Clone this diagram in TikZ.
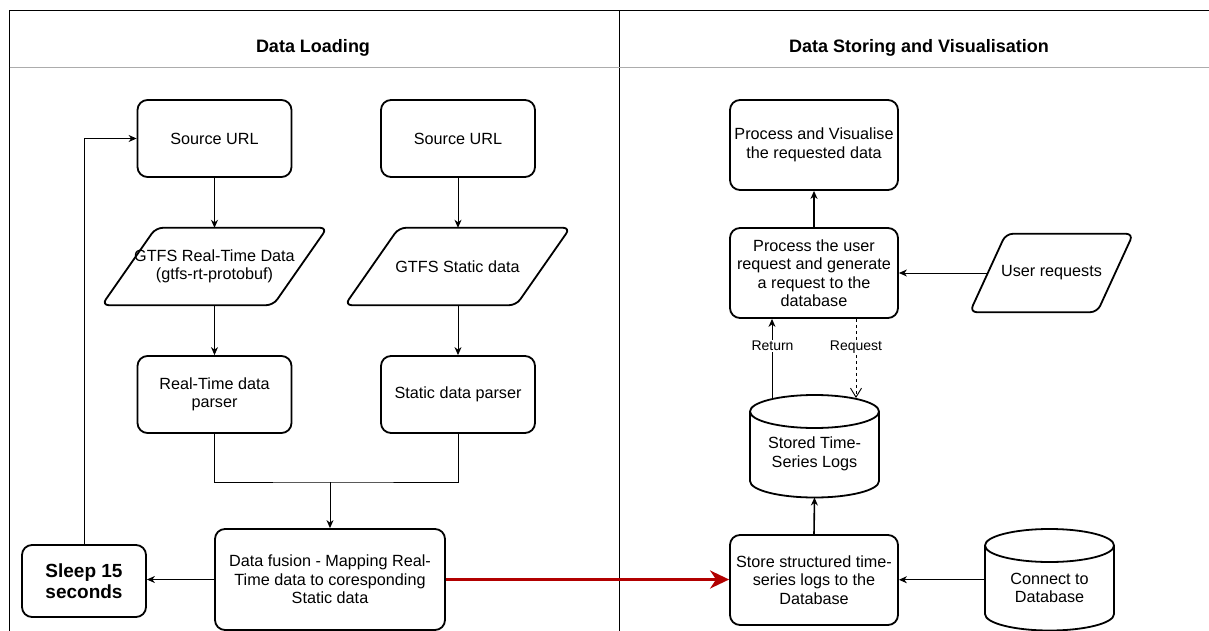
\documentclass[tikz,border=0pt]{standalone}
\usepackage{fontspec}
\setmainfont{Liberation Sans}
\usetikzlibrary{arrows.meta,calc}
\definecolor{darkred}{HTML}{B20000}
\begin{document}
\begin{tikzpicture}[x=1pt,y=-1pt,
  box/.style={draw, line width=1.8pt, rounded corners=10pt, fill=white, align=center, inner sep=0pt, font=\fontsize{16.2}{18.5}\selectfont},
  txt/.style={align=center, inner sep=0pt, font=\fontsize{16.2}{18.5}\selectfont},
  hdr/.style={font=\bfseries\fontsize{18}{21}\selectfont, inner sep=0pt},
  conn/.style={line width=1pt, -{Stealth[length=8pt,width=7pt,inset=2.5pt]}},
  thickconn/.style={line width=1.6pt, -{Stealth[length=8pt,width=7pt,inset=2.5pt]}},
  plain/.style={line width=1pt},
  lbl/.style={fill=white, inner sep=1pt, font=\fontsize{14}{16}\selectfont},
  shapeline/.style={line width=1.8pt, line join=round},
  ghost/.style={inner sep=0pt, outer sep=0pt}
]
\useasboundingbox (0,0) rectangle (1209,631);

% frame
\draw[line width=1pt] (9.5,631) -- (9.5,10.5) -- (1209,10.5);
\draw[line width=1pt] (619,10.5) -- (619,631);
\draw[line width=1pt, gray!65] (9.5,68) -- (1209,68);
\node[hdr] (h1) at (313,48) {Data Loading};
\node[hdr] (h2) at (919,48) {Data Storing and Visualisation};

% left lane
\node[box, minimum width=154, minimum height=77] (src1) at (214.5,138.5) {Source URL};
\node[box, minimum width=154, minimum height=77] (src2) at (458,138.5) {Source URL};

\node[txt, minimum width=171, minimum height=77] (rt) at (214.5,266.5) {GTFS Real-Time Data\\(gtfs-rt-protobuf)};
\draw[shapeline, rounded corners=7pt] ($(rt.south west)+(-27,0)$) -- ($(rt.north west)+(27,0)$) -- ($(rt.north east)+(27,0)$) -- ($(rt.south east)+(-27,0)$) -- cycle;
\node[txt, minimum width=171, minimum height=77] (st) at (457.5,266.5) {GTFS Static data};
\draw[shapeline, rounded corners=7pt] ($(st.south west)+(-27,0)$) -- ($(st.north west)+(27,0)$) -- ($(st.north east)+(27,0)$) -- ($(st.south east)+(-27,0)$) -- cycle;

\node[box, minimum width=154, minimum height=77] (rtp) at (214.5,394.5) {Real-Time data\\parser};
\node[box, minimum width=154, minimum height=77] (stp) at (458,394.5) {Static data parser};

\node[box, minimum width=230, minimum height=101] (fusion) at (330,579.5) {Data fusion - Mapping Real-\\Time data to coresponding\\Static data};
\node[box, minimum width=124, minimum height=72, font=\bfseries\fontsize{19}{21}\selectfont] (sleep) at (84,581) {Sleep 15\\seconds};

\coordinate (merge) at (330,482);

\draw[conn] (src1.south) -- (rt.north);
\draw[conn] (src2.south) -- (src2.south |- st.north);
\draw[conn] (rt.south) -- (rtp.north);
\draw[conn] (st.south -| stp.north) -- (stp.north);
\draw[plain] (rtp.south) |- (merge) -| (stp.south);
\draw[conn] (merge) -- (fusion.north);
\draw[conn] (fusion.west) -- (fusion.west -| sleep.east);
\draw[conn] (sleep.north) |- (src1.west);

% right lane
\node[box, minimum width=168, minimum height=90] (vis) at (814,145) {Process and Visualise\\the requested data};
\node[box, minimum width=168, minimum height=90] (req) at (814,273) {Process the user\\request and generate\\a request to the\\database};
\node[box, minimum width=168, minimum height=90] (store) at (814,580) {Store structured time-\\series logs to the\\Database};

\node[txt, minimum width=127, minimum height=78] (user) at (1051.5,273) {User requests};
\draw[shapeline, rounded corners=7pt] ($(user.south west)+(-18,0)$) -- ($(user.north west)+(18,0)$) -- ($(user.north east)+(18,0)$) -- ($(user.south east)+(-18,0)$) -- cycle;

% stored cylinder
\node[ghost, minimum width=129, minimum height=102.5] (stored) at (814.5,446.25) {};
\draw[shapeline, fill=white] (750,411.5) -- (750,481) arc[start angle=180, end angle=360, x radius=64.5pt, y radius=16.5pt] -- (879,411.5);
\draw[shapeline] (814.5,411.5) ellipse[x radius=64.5pt, y radius=16.5pt];
\node[txt] (storedtxt) at (814.5,454) {Stored Time-\\Series Logs};

% connect cylinder
\node[ghost, minimum width=129, minimum height=101.5] (db) at (1049.5,579.75) {};
\draw[shapeline, fill=white] (985,545.5) -- (985,614) arc[start angle=180, end angle=360, x radius=64.5pt, y radius=16.5pt] -- (1114,545.5);
\draw[shapeline] (1049.5,545.5) ellipse[x radius=64.5pt, y radius=16.5pt];
\node[txt] (dbtxt) at (1049.5,588) {Connect to\\Database};

\coordinate (retS) at (772,399);
\coordinate (reqE) at (856,398);

\draw[thickconn] (req.north) -- (vis.south);
\draw[conn] (user.west) -- (req.east);
\draw[conn] (retS) -- (retS |- req.south);
\draw[line width=0.9pt, dash pattern=on 3pt off 3pt, -{Straight Barb[length=9pt,width=11pt,line width=0.9pt]}] (req.south -| reqE) -- (reqE);
\node[lbl] (lret) at (772.5,346) {Return};
\node[lbl] (lreq) at (856,347) {Request};
\draw[thickconn] (store.north) -- (stored.south);
\draw[conn] (db.west) -- (db.west -| store.east);

\draw[line width=3pt, darkred, -{Stealth[length=19pt,width=18pt,inset=6pt]}] (fusion.east) -- (fusion.east -| store.west);
\end{tikzpicture}
\end{document}
